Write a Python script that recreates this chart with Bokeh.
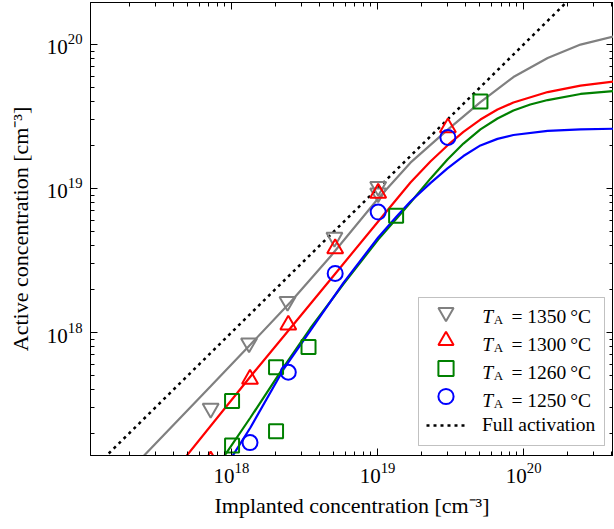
from bokeh.plotting import figure
from bokeh.models import (LogAxis, FixedTicker, Legend, LegendItem, Label,
                          BoxAnnotation, Range1d)
from bokeh.embed import file_html
from bokeh.resources import INLINE

# ---------------- data ----------------
# measured points
t1350_x = [7.21e17, 1.32e18, 2.42e18, 5.07e18, 1.01e19, 1.01e19]
t1350_y = [2.97e17, 8.45e17, 1.64e18, 4.57e18, 1.03e19, 9.3e18]
t1300_x = [7.21e17, 1.34e18, 2.45e18, 5.13e18, 1.01e19, 3.03e19]
t1300_y = [1.29e17, 4.75e17, 1.13e18, 3.83e18, 9.3e18, 2.64e19]
t1260_x = [1.01e18, 1.01e18, 2.02e18, 2.02e18, 3.37e18, 1.34e19, 5.06e19]
t1260_y = [3.34e17, 1.64e17, 5.74e17, 2.06e17, 7.93e17, 6.46e18, 4.02e19]
t1250_x = [1.34e18, 2.45e18, 5.13e18, 1.01e19, 3.03e19]
t1250_y = [1.72e17, 5.30e17, 2.57e18, 6.86e18, 2.26e19]

# model curves
c1350_x = [2.20e17, 7.18e17, 1.35e18, 2.53e18, 4.76e18, 1.01e19, 1.68e19,
           3.01e19, 5.06e19, 8.51e19, 1.46e20, 2.45e20, 4.18e20]
c1350_y = [1.21e17, 4.22e17, 8.26e17, 1.62e18, 3.37e18, 8.52e18, 1.51e19,
           2.55e19, 3.98e19, 5.94e19, 8.04e19, 9.98e19, 1.14e20]
c1300_x = [4.41e17, 1.35e18, 2.53e18, 5.15e18, 1.01e19, 1.68e19, 2.30e19,
           3.01e19, 3.87e19, 5.06e19, 6.62e19, 8.51e19, 1.46e20, 2.45e20, 4.18e20]
c1300_y = [1.21e17, 4.95e17, 1.07e18, 2.57e18, 5.90e18, 1.10e19, 1.54e19,
           1.99e19, 2.47e19, 3.01e19, 3.53e19, 3.95e19, 4.67e19, 5.18e19, 5.53e19]
c1260_x = [8.15e17, 1.35e18, 2.27e18, 3.47e18, 5.84e18, 1.01e19, 1.35e19,
           1.68e19, 2.30e19, 3.01e19, 3.87e19, 5.06e19, 6.62e19, 8.51e19,
           1.11e20, 1.46e20, 2.45e20, 4.18e20]
c1260_y = [1.21e17, 2.57e17, 5.72e17, 1.07e18, 2.17e18, 4.42e18, 6.19e18,
           7.99e18, 1.17e19, 1.59e19, 2.05e19, 2.57e19, 3.06e19, 3.48e19,
           3.83e19, 4.11e19, 4.53e19, 4.75e19]
c1250_x = [9.33e17, 1.35e18, 2.27e18, 3.47e18, 5.84e18, 1.01e19, 1.35e19,
           1.68e19, 2.30e19, 3.01e19, 3.87e19, 5.06e19, 6.62e19, 8.51e19,
           1.46e20, 2.45e20, 4.18e20]
c1250_y = [1.21e17, 2.19e17, 5.54e17, 1.03e18, 2.21e18, 4.57e18, 6.39e18,
           8.12e18, 1.09e19, 1.38e19, 1.68e19, 1.99e19, 2.21e19, 2.35e19,
           2.51e19, 2.57e19, 2.60e19]

# full activation (active = implanted)
full_x = [1e16, 1e21]
full_y = [1e16, 1e21]

temps = ["1350", "1300", "1260", "1250"]
legend_values = ["= " + t + "\u2009°C" for t in temps]
full_label = "Full activation"
x_label = "Implanted concentration [cm\u207b\u00b3]"
y_label = "Active concentration [cm\u207b\u00b3]"

major_ticks = [1e16, 1e17, 1e18, 1e19, 1e20, 1e21]
minor_mantissas = [2, 3, 4, 5, 6, 7, 8, 9]
minor_ticks = [m * t for t in major_ticks for m in minor_mantissas]

x_lo, x_hi = 1.085e17, 4.12e20
y_lo, y_hi = 1.40e17, 1.955e20

# ---------------- styling ----------------
FONT = "Liberation Serif"
GRAY, RED, GREEN, BLUE = "#808080", "#ff0000", "#008000", "#0000ff"

p = figure(frame_width=523, frame_height=453,
           x_axis_type="log", y_axis_type="log",
           x_range=Range1d(x_lo, x_hi), y_range=Range1d(y_lo, y_hi),
           output_backend="svg", toolbar_location=None,
           min_border_left=90, min_border_right=0,
           min_border_top=2, min_border_bottom=60)
p.grid.visible = False
p.outline_line_color = "black"
p.outline_line_width = 1
p.background_fill_color = "white"
p.border_fill_color = "white"

ticker = FixedTicker(ticks=major_ticks, minor_ticks=minor_ticks)


def style_axis(ax, labels):
    ax.ticker = ticker
    ax.major_tick_in = 7
    ax.major_tick_out = 0
    ax.minor_tick_in = 4
    ax.minor_tick_out = 0
    ax.axis_line_color = "black"
    ax.major_tick_line_color = "black"
    ax.minor_tick_line_color = "black"
    if labels:
        ax.major_label_text_font = FONT
        ax.major_label_text_font_size = "21px"
        ax.major_label_text_color = "black"
        ax.axis_label_text_font = FONT
        ax.axis_label_text_font_size = "22px"
        ax.axis_label_text_font_style = "normal"
        ax.axis_label_text_color = "black"
    else:
        ax.major_label_text_font_size = "1px"
        ax.major_label_text_alpha = 0
        ax.major_label_standoff = 0


xa = p.xaxis[0]
ya = p.yaxis[0]
style_axis(xa, True)
style_axis(ya, True)
xa.axis_label = x_label
ya.axis_label = y_label
xa.major_label_standoff = 7
xa.axis_label_standoff = 7
ya.major_label_standoff = 8
ya.axis_label_standoff = 11

top_ax = LogAxis()
right_ax = LogAxis()
style_axis(top_ax, False)
style_axis(right_ax, False)
p.add_layout(top_ax, "above")
p.add_layout(right_ax, "right")

# ---------------- glyphs ----------------
r_full = p.line(full_x, full_y, line_color="black", line_width=2.5, line_dash="3 4")
p.line(c1350_x, c1350_y, line_color=GRAY, line_width=2.2)
p.line(c1300_x, c1300_y, line_color=RED, line_width=2.2)
p.line(c1260_x, c1260_y, line_color=GREEN, line_width=2.2)
p.line(c1250_x, c1250_y, line_color=BLUE, line_width=2.2)

r1350 = p.scatter(t1350_x, t1350_y, marker="inverted_triangle", size=16,
                  line_color=GRAY, line_width=2, fill_alpha=0)
r1300 = p.scatter(t1300_x, t1300_y, marker="triangle", size=16,
                  line_color=RED, line_width=2, fill_alpha=0)
r1260 = p.scatter(t1260_x, t1260_y, marker="square", size=14,
                  line_color=GREEN, line_width=2, fill_alpha=0)
r1250 = p.scatter(t1250_x, t1250_y, marker="circle", size=15,
                  line_color=BLUE, line_width=2, fill_alpha=0)

# ---------------- legend ----------------
box = BoxAnnotation(left=328, right=514, bottom=10, top=158,
                    left_units="screen", right_units="screen",
                    bottom_units="screen", top_units="screen",
                    fill_color="white", fill_alpha=1.0,
                    line_color="#333333", line_width=1)
p.add_layout(box)

marker_renderers = [r1350, r1300, r1260, r1250]
row_center = [143, 115, 87, 59]        # marker rows (screen units, from frame bottom)
row_base = [139.3, 111.2, 83.1, 55.0]   # text baselines
for rend, yc in zip(marker_renderers, row_center):
    leg = Legend(items=[LegendItem(label="\u00a0", renderers=[rend])],
                 location=(328, yc - 19), orientation="vertical",
                 glyph_width=55, glyph_height=38, spacing=0, padding=0, margin=0,
                 label_standoff=0, label_text_font=FONT,
                 label_text_font_size="19.5px",
                 border_line_alpha=0, background_fill_alpha=0)
    p.add_layout(leg)

legB = Legend(items=[LegendItem(label=full_label, renderers=[r_full])],
              location=(336, 16), orientation="vertical",
              glyph_width=41, glyph_height=28, spacing=0, padding=0, margin=0,
              label_standoff=15, label_text_font=FONT,
              label_text_font_size="19.5px", label_text_color="black",
              border_line_alpha=0, background_fill_alpha=0)
p.add_layout(legB)

for yb, txt in zip(row_base, legend_values):
    p.add_layout(Label(x=391.7, y=yb, x_units="screen", y_units="screen",
                       text="T", text_font=FONT, text_font_style="italic",
                       text_font_size="19.5px", text_baseline="alphabetic",
                       text_color="black"))
    p.add_layout(Label(x=403.3, y=yb - 3, x_units="screen", y_units="screen",
                       text="A", text_font=FONT, text_font_size="13px",
                       text_baseline="alphabetic", text_color="black"))
    p.add_layout(Label(x=421.0, y=yb, x_units="screen", y_units="screen",
                       text=txt, text_font=FONT, text_font_size="19.5px",
                       text_baseline="alphabetic", text_color="black"))

open("out.html", "w").write(file_html(p, INLINE))
